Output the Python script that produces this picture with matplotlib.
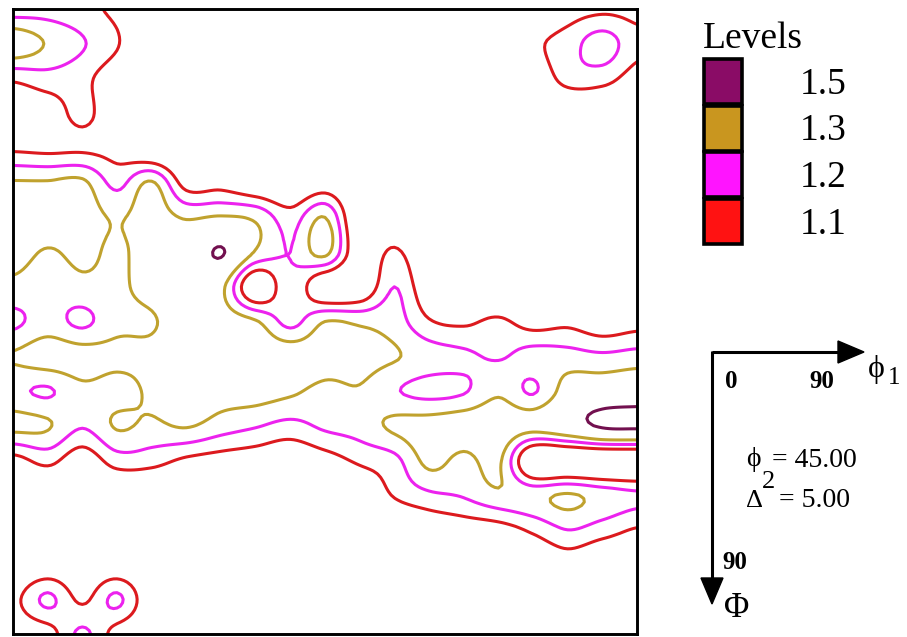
import numpy as np
import matplotlib
matplotlib.use('Agg')
import matplotlib.pyplot as plt
from matplotlib.patches import Rectangle, Polygon

# ODF section phi2 = 45, grid step 5 deg (phi1 across, Phi down)
phi1 = np.arange(0, 91, 5)
Phi = np.arange(0, 91, 5)

# f(g), one row per Phi value, phi1 = 0..90
f_00 = [1.15, 1.16, 1.13, 1.07, 0.95, 0.92, 0.90, 0.90, 0.90, 0.90, 0.90, 0.90, 0.90, 0.90, 0.92, 0.98, 1.05, 1.08, 1.07]
f_05 = [1.38, 1.29, 1.21, 1.11, 0.95, 0.92, 0.90, 0.90, 0.90, 0.90, 0.90, 0.90, 0.90, 0.92, 0.95, 1.07, 1.15, 1.25, 1.13]
f_10 = [1.12, 1.16, 1.13, 1.02, 0.93, 0.90, 0.90, 0.90, 0.90, 0.90, 0.90, 0.90, 0.90, 0.90, 0.92, 1.00, 1.14, 1.14, 1.05]
f_15 = [0.98, 1.03, 1.13, 1.00, 0.92, 0.90, 0.90, 0.90, 0.90, 0.90, 0.90, 0.90, 0.90, 0.90, 0.90, 0.92, 0.95, 0.95, 0.92]
f_20 = [1.08, 1.07, 1.08, 1.05, 0.95, 0.92, 0.90, 0.90, 0.90, 0.90, 0.90, 0.90, 0.90, 0.90, 0.90, 0.90, 0.90, 0.90, 0.90]
f_25 = [1.31, 1.31, 1.32, 1.17, 1.31, 1.05, 1.05, 0.98, 0.95, 1.02, 0.93, 0.90, 0.90, 0.90, 0.90, 0.90, 0.90, 0.90, 0.90]
f_30 = [1.36, 1.38, 1.35, 1.29, 1.35, 1.29, 1.31, 1.28, 1.15, 1.30, 0.95, 0.95, 0.90, 0.90, 0.90, 0.90, 0.90, 0.90, 0.90]
f_35 = [1.35, 1.29, 1.33, 1.28, 1.36, 1.38, 1.51, 1.29, 1.20, 1.33, 1.00, 1.12, 0.95, 0.92, 0.90, 0.90, 0.90, 0.90, 0.90]
f_40 = [1.27, 1.24, 1.27, 1.28, 1.34, 1.38, 1.33, 0.98, 1.18, 0.98, 0.98, 1.20, 1.00, 0.95, 0.93, 0.92, 0.92, 0.92, 0.92]
f_45 = [1.18, 1.24, 1.18, 1.27, 1.29, 1.36, 1.36, 1.31, 1.17, 1.30, 1.28, 1.25, 1.11, 1.08, 1.12, 1.05, 1.07, 1.02, 1.05]
f_50 = [1.31, 1.36, 1.35, 1.33, 1.33, 1.38, 1.38, 1.38, 1.38, 1.36, 1.34, 1.31, 1.25, 1.22, 1.19, 1.24, 1.24, 1.22, 1.24]
f_55 = [1.22, 1.19, 1.27, 1.26, 1.32, 1.38, 1.35, 1.35, 1.32, 1.27, 1.29, 1.21, 1.17, 1.19, 1.28, 1.19, 1.35, 1.38, 1.40]
f_60 = [1.33, 1.31, 1.21, 1.31, 1.28, 1.31, 1.25, 1.21, 1.17, 1.22, 1.25, 1.32, 1.35, 1.37, 1.38, 1.35, 1.42, 1.52, 1.53]
f_65 = [1.06, 1.13, 1.03, 1.15, 1.14, 1.08, 1.05, 1.03, 1.00, 1.05, 1.12, 1.17, 1.33, 1.27, 1.32, 0.95, 0.95, 0.95, 0.95]
f_70 = [0.95, 0.95, 0.93, 0.95, 0.95, 0.93, 0.92, 0.92, 0.92, 0.93, 0.98, 1.11, 1.18, 1.21, 1.28, 1.27, 1.31, 1.26, 1.22]
f_75 = [0.92, 0.92, 0.92, 0.92, 0.92, 0.92, 0.92, 0.92, 0.92, 0.92, 0.93, 0.95, 1.00, 1.03, 1.05, 1.12, 1.20, 1.15, 1.09]
f_80 = [0.97, 1.00, 0.98, 1.00, 0.95, 0.92, 0.92, 0.92, 0.92, 0.92, 0.92, 0.92, 0.92, 0.92, 0.92, 0.95, 1.02, 0.95, 0.93]
f_85 = [1.07, 1.22, 1.08, 1.22, 1.00, 0.93, 0.92, 0.92, 0.92, 0.92, 0.92, 0.92, 0.92, 0.92, 0.92, 0.92, 0.92, 0.92, 0.92]
f_90 = [1.02, 1.05, 1.22, 1.05, 0.97, 0.92, 0.92, 0.92, 0.92, 0.92, 0.92, 0.92, 0.92, 0.92, 0.92, 0.92, 0.92, 0.92, 0.92]

levels = [1.1, 1.2, 1.3, 1.5]
line_colors = ['#dc1a1e', '#ec22ee', '#c0a22e', '#72104f']
box_colors = ['#ff1212', '#ff14ff', '#c9961f', '#8a0c66']
legend_labels = ['1.1', '1.2', '1.3', '1.5']

F = np.array([f_00, f_05, f_10, f_15, f_20, f_25, f_30, f_35, f_40, f_45,
              f_50, f_55, f_60, f_65, f_70, f_75, f_80, f_85, f_90])


def cr_upsample(z, k, axis):
    """Catmull-Rom resampling along one axis (passes through the nodes)."""
    n = z.shape[axis]
    t = np.linspace(0, n - 1, (n - 1) * k + 1)
    i = np.clip(np.floor(t).astype(int), 0, n - 2)
    s = t - i
    take = lambda j: np.take(z, np.clip(j, 0, n - 1), axis=axis)
    p0, p1, p2, p3 = take(i - 1), take(i), take(i + 1), take(i + 2)
    shp = [1] * z.ndim
    shp[axis] = -1
    s = s.reshape(shp)
    return 0.5 * (2 * p1 + (p2 - p0) * s + (2 * p0 - 5 * p1 + 4 * p2 - p3) * s ** 2
                  + (3 * p1 - p0 - 3 * p2 + p3) * s ** 3)


k = 10
Fs = cr_upsample(cr_upsample(F, k, 0), k, 1)
xs = np.linspace(phi1[0], phi1[-1], Fs.shape[1])
ys = np.linspace(Phi[0], Phi[-1], Fs.shape[0])

W, H = 907, 637
fig = plt.figure(figsize=(W / 100, H / 100), dpi=100)
ax = fig.add_axes([13 / W, 3 / H, 624 / W, 625 / H])
ax.contour(xs, ys, Fs, levels=levels, colors=line_colors, linewidths=2.2)
ax.set_xlim(0, 90)
ax.set_ylim(90, 0)
ax.set_xticks([])
ax.set_yticks([])
for sp in ax.spines.values():
    sp.set_linewidth(2.1)
    sp.set_color('black')

# overlay in pixel coordinates for legend and axis key
ov = fig.add_axes([0, 0, 1, 1])
ov.set_xlim(0, W)
ov.set_ylim(H, 0)
ov.axis('off')

serif = ['Liberation Serif', 'DejaVu Serif']

ov.text(703, 48, 'Levels', fontsize=27, family=serif, va='baseline', ha='left')
for j, (c, lab) in enumerate(zip(box_colors[::-1], legend_labels[::-1])):
    top = 59 + j * 46.5
    ov.add_patch(Rectangle((704, top), 38, 45, facecolor=c, edgecolor='black', lw=2.6))
    ov.text(800, top + 35, lab, fontsize=27, family=serif, va='baseline', ha='left')

# axis key arrows
ov.plot([712, 842], [352, 352], color='black', lw=2.2, solid_capstyle='butt')
ov.add_patch(Polygon([(838, 341), (864, 352), (838, 363)], closed=True, color='black'))
ov.plot([712, 712], [351, 582], color='black', lw=2.2, solid_capstyle='butt')
ov.add_patch(Polygon([(701, 578), (712, 604), (723, 578)], closed=True, color='black'))

ov.text(731, 388, '0', fontsize=18, family=serif, weight='bold', ha='center', va='baseline')
ov.text(822, 388, '90', fontsize=18, family=serif, weight='bold', ha='center', va='baseline')
ov.text(868, 377, '\u03d5', fontsize=23, family=serif, ha='left', va='baseline')
ov.text(888, 384, '1', fontsize=18, family=serif, ha='left', va='baseline')

ov.text(746, 466, '\u03d5', fontsize=20, family=serif, ha='left', va='baseline')
ov.text(762, 488, '2', fontsize=19, family=serif, ha='left', va='baseline')
ov.text(772, 467, '= 45.00', fontsize=20, family=serif, ha='left', va='baseline')
ov.text(746, 507, '\u0394', fontsize=19, family=serif, ha='left', va='baseline')
ov.text(772, 507, ' = 5.00', fontsize=20, family=serif, ha='left', va='baseline')

ov.text(722, 569, '90', fontsize=18, family=serif, weight='bold', ha='left', va='baseline')
ov.text(724, 617, '\u03a6', fontsize=25, family=serif, ha='left', va='baseline')

fig.savefig('out.png', dpi=100, facecolor='white')
